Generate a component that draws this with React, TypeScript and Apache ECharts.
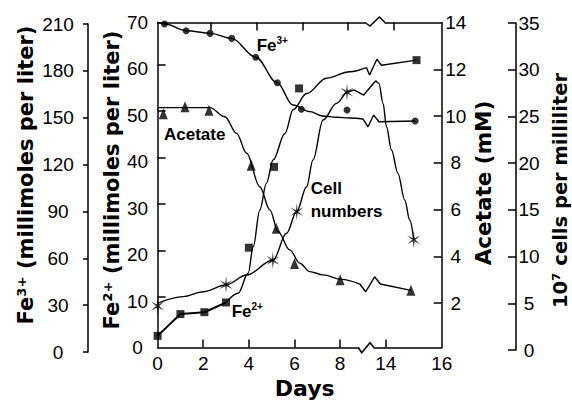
import React, { useEffect, useRef } from "react";
import * as echarts from "echarts";

// ---- broken day axis: days before the break keep their value, days from 14 on follow the break
const BREAK_DAY = 14;
const BREAK_POS = 10;
const POST_BREAK_SCALE = 1.225;
const toPos = (d: number) => (d <= BREAK_POS ? d : BREAK_POS + (d - BREAK_DAY) * POST_BREAK_SCALE);
const X_MAX = toPos(16);

const dayTickDays = [0, 2, 4, 6, 8, 14, 16];
const dayTickLabels = ["0", "2", "4", "6", "8", "14", "16"];
const dayInnerTicks = [2, 4, 6, 8, 14];
const TOP_TICK_SHIFT = 0.34;

const fe2Ticks = [0, 10, 20, 30, 40, 50, 60, 70];
const FE2_TICK_SHIFT = 0.9;
const fe3Ticks = [0, 30, 60, 90, 120, 150, 180, 210];
const acetateTicks = [2, 4, 6, 8, 10, 12, 14];
const cellTicks = [0, 5, 10, 15, 20, 25, 30, 35];

// ---- measured points (day, value)
const fe3Days = [0.3, 1.25, 2.3, 3.25, 4.3, 5.25, 6.3, 8.3, 15.05];
const fe3Vals = [210, 205.7, 204, 200.8, 188.7, 172.4, 155.4, 154.9, 147.9];
const fe2Days = [0, 1, 2.05, 3, 4, 5.1, 6.2, 15.1];
const fe2Vals = [2.5, 7.2, 7.6, 9.7, 21.5, 38.9, 55.8, 61.9];
const acetateDays = [0.25, 1.2, 2.25, 4.1, 5.2, 6.0, 8.0, 14.9];
const acetateVals = [10.1, 10.4, 10.25, 7.9, 5.2, 3.7, 3.0, 2.55];
const cellDays = [0, 3, 5.05, 6.1, 8.3, 15];
const cellVals = [4.7, 7.0, 9.6, 14.8, 27.6, 11.8];

// ---- fitted curves (axis position, value)
const fe3Curve = [[0, 211], [0.32, 210], [1.27, 205.7], [2.32, 204], [3.24, 200.8], [4.3, 188.7], [5.24, 172.4], [5.93, 158.1], [6.68, 153.9], [7.24, 151.1], [7.83, 150.3], [8.42, 149.8], [9.0, 149.2]];
const fe3Zigzag = [[9.0, 149.2], [9.22, 144.2], [9.47, 151.7], [9.7, 147.4]];
const fe2Curve = [[3, 9.7], [3.53, 11.7], [3.97, 16.0], [4.19, 21.7], [4.48, 29.6], [4.77, 35.4], [5.06, 40.4], [5.58, 46.1], [5.94, 51.2], [6.53, 54.7], [7.4, 58.0], [8.42, 59.4], [9.15, 60.3]];
const fe2Zigzag = [[9.15, 60.3], [9.29, 58.7], [9.61, 62.1], [9.81, 60.8]];
const acetateCurve = [[0, 10.36], [2.29, 10.36], [2.95, 9.97], [3.46, 9.26], [3.9, 8.41], [4.48, 6.98], [4.92, 5.99], [5.28, 5.06], [5.79, 4.28], [6.23, 3.71], [6.67, 3.35], [7.25, 3.21], [8.06, 3.02], [8.86, 2.82]];
const acetateZigzag = [[8.86, 2.82], [9.12, 2.49], [9.51, 3.13], [9.76, 2.82]];
const cellCurve = [[0, 5.0], [1.12, 5.71], [2.0, 6.24], [2.99, 6.96], [3.9, 8.03], [5.06, 9.63], [5.65, 12.49], [6.09, 14.8], [6.53, 17.48], [6.81, 20.34], [7.25, 24.62], [7.84, 26.4], [8.33, 27.61], [8.6, 27.83]];
const cellZigzag = [[8.6, 27.83], [9.03, 27.29], [9.56, 28.82]];
const cellDrop = [[9.56, 28.82], [9.7, 28.54], [9.88, 26.4], [10.03, 23.9], [10.25, 21.4], [10.53, 18.91], [10.83, 16.05], [11.05, 13.91]];

const INK = "#000";
const TICK_FONT = { color: INK, fontFamily: "Liberation Sans", fontSize: 19 };
const TITLE_FONT = { color: INK, fontFamily: "DejaVu Sans", fontWeight: "bold" as const, fontSize: 21 };
const LINE = { show: true, onZero: false, lineStyle: { color: INK, width: 1.5 } };

const starPath = (() => {
  const pts: string[] = [];
  for (let i = 0; i < 12; i++) {
    const a = ((i * 30 - 90) * Math.PI) / 180;
    const r = i % 2 === 0 ? 10 : 2.1;
    pts.push(`${(r * Math.cos(a)).toFixed(3)} ${(r * Math.sin(a)).toFixed(3)}`);
  }
  return "path://M" + pts.join(" L") + " Z";
})();

const pts = (days: number[], vals: number[]) => days.map((d, i) => [toPos(d), vals[i]]);
const lastPt = (days: number[], vals: number[]) => [toPos(days[days.length - 1]), vals[vals.length - 1]];

export default function App() {
  const ref = useRef<HTMLDivElement>(null);
  useEffect(() => {
    if (!ref.current) return;
    const chart = echarts.init(ref.current, undefined, { renderer: "svg" });
    const grid = { left: 157.6, width: 284.1, outerBoundsMode: "none" } as any;
    const hiddenX = (gridIndex: number) => ({ gridIndex, type: "value", min: 0, max: X_MAX, show: false });
    const curve = (data: number[][], xi: number, yi: number, smooth: number | boolean, width = 1.4) => ({
      type: "line", data, xAxisIndex: xi, yAxisIndex: yi, smooth, smoothMonotone: "x",
      symbol: "none", showSymbol: false, clip: false, silent: true, z: 2,
      lineStyle: { color: INK, width },
    });
    const marks = (data: number[][], xi: number, yi: number, symbol: string, symbolSize: any) => ({
      type: "scatter", data, xAxisIndex: xi, yAxisIndex: yi, symbol, symbolSize, symbolKeepAspect: true,
      itemStyle: { color: INK, borderColor: INK, borderWidth: 0 }, z: 4, silent: true,
    });
    const dayTickPos = dayTickDays.map(toPos);
    const richLabel = {
      b: { fontFamily: "Liberation Sans", fontWeight: "bold", fontSize: 17, fill: INK, lineHeight: 20 },
      s: { fontFamily: "Liberation Sans", fontWeight: "bold", fontSize: 10, fill: INK, verticalAlign: "top", lineHeight: 20 },
    };
    const option: any = {
      animation: false,
      backgroundColor: "#fff",
      textStyle: { fontFamily: "Liberation Sans" },
      grid: [
        { ...grid, top: 22.5, height: 325 },
        { ...grid, top: 24, height: 328 },
        { ...grid, top: 23, height: 327 },
      ],
      xAxis: [
        {
          gridIndex: 0, type: "value", position: "bottom", min: 0, max: X_MAX,
          axisLine: LINE,
          axisTick: { show: true, inside: true, length: 8, lineStyle: { color: INK, width: 1.5 }, customValues: dayInnerTicks.map(toPos) },
          axisLabel: {
            ...TICK_FONT, margin: 6, showMinLabel: true, showMaxLabel: true, customValues: dayTickPos,
            formatter: (v: number) => {
              const i = dayTickPos.findIndex((p) => Math.abs(p - v) < 1e-6);
              return i >= 0 ? dayTickLabels[i] : "";
            },
          },
          splitLine: { show: false },
          name: "Days", nameLocation: "middle", nameGap: 25,
          nameTextStyle: { ...TITLE_FONT, fontSize: 22, padding: [0, 0, 0, 10] },
        },
        {
          gridIndex: 0, type: "value", position: "top", min: 0, max: X_MAX,
          axisLine: LINE,
          axisTick: { show: true, inside: true, length: 8, lineStyle: { color: INK, width: 1.5 }, customValues: dayInnerTicks.map((d) => toPos(d) + TOP_TICK_SHIFT) },
          axisLabel: { show: false },
          splitLine: { show: false },
        },
        hiddenX(1),
        hiddenX(2),
      ],
      yAxis: [
        {
          gridIndex: 0, type: "value", position: "left", min: 0, max: 70,
          axisLine: LINE,
          axisTick: { show: true, inside: true, length: 8, lineStyle: { color: INK, width: 1.5 }, customValues: fe2Ticks.slice(1, -1).map((v) => v + FE2_TICK_SHIFT) },
          axisLabel: { ...TICK_FONT, align: "center", margin: 20, customValues: fe2Ticks, showMinLabel: true, showMaxLabel: true },
          splitLine: { show: false },
          name: "Fe²⁺ (millimoles per liter)", nameLocation: "middle", nameRotate: 90, nameGap: 35,
          nameTextStyle: { ...TITLE_FONT, padding: [0, 0, 0, 10] },
        },
        {
          gridIndex: 0, type: "value", position: "right", min: 0.107, max: 14,
          axisLine: LINE,
          axisTick: { show: true, inside: true, length: 8, lineStyle: { color: INK, width: 1.5 }, customValues: acetateTicks.slice(0, -1) },
          axisLabel: { ...TICK_FONT, align: "center", margin: 14, customValues: acetateTicks, showMinLabel: true, showMaxLabel: true },
          splitLine: { show: false },
          name: "Acetate (mM)", nameLocation: "middle", nameRotate: 90, nameGap: 31,
          nameTextStyle: { ...TITLE_FONT, fontSize: 21.5, padding: [0, 0, 0, 4] },
        },
        {
          gridIndex: 1, type: "value", position: "left", offset: 69.6, min: 0, max: 210,
          axisLine: LINE,
          axisTick: { show: true, inside: false, length: 5, lineStyle: { color: INK, width: 1.5 }, customValues: fe3Ticks },
          axisLabel: { ...TICK_FONT, align: "center", margin: 30, customValues: fe3Ticks, showMinLabel: true, showMaxLabel: true },
          splitLine: { show: false },
          name: "Fe³⁺ (millimoles per liter)", nameLocation: "middle", nameRotate: 90, nameGap: 52,
          nameTextStyle: { ...TITLE_FONT, padding: [0, 0, 0, 26] },
        },
        {
          gridIndex: 2, type: "value", position: "right", offset: 74.3, min: 0, max: 35,
          axisLine: LINE,
          axisTick: { show: true, inside: true, length: 8, lineStyle: { color: INK, width: 1.5 }, customValues: cellTicks },
          axisLabel: { ...TICK_FONT, align: "center", margin: 13, customValues: cellTicks, showMinLabel: true, showMaxLabel: true },
          splitLine: { show: false },
          name: "10⁷ cells per milliliter", nameLocation: "middle", nameRotate: 90, nameGap: 34,
          nameTextStyle: { ...TITLE_FONT, fontSize: 19.5, padding: [0, 8, 0, 0] },
        },
      ],
      series: [
        // Fe3+
        curve(fe3Curve, 2, 2, 0.35),
        curve([...fe3Zigzag, lastPt(fe3Days, fe3Vals)], 2, 2, false),
        marks(pts(fe3Days, fe3Vals), 2, 2, "circle", 7),
        // Fe2+
        curve(pts(fe2Days.slice(0, 4), fe2Vals.slice(0, 4)), 0, 0, false, 2),
        curve(fe2Curve, 0, 0, 0.35),
        curve([...fe2Zigzag, lastPt(fe2Days, fe2Vals)], 0, 0, false),
        marks(pts(fe2Days, fe2Vals), 0, 0, "rect", 8),
        // acetate
        curve(acetateCurve, 0, 1, 0.35),
        curve([...acetateZigzag, lastPt(acetateDays, acetateVals)], 0, 1, false),
        marks(pts(acetateDays, acetateVals), 0, 1, "triangle", [9, 11]),
        // cell numbers
        curve(cellCurve, 3, 3, 0.35),
        curve(cellZigzag, 3, 3, false),
        curve([...cellDrop, lastPt(cellDays, cellVals)], 3, 3, 0.35),
        marks(pts(cellDays, cellVals), 3, 3, starPath, [15, 17.5]),
      ],
      graphic: [
        // axis break marks on the frame
        { type: "rect", z: 100, shape: { x: 365.6, y: 20, width: 19, height: 5 }, style: { fill: "#fff" } },
        { type: "polyline", z: 101, shape: { points: [[365, 22.5], [370, 26], [379.3, 17], [385, 22.5]] }, style: { stroke: INK, lineWidth: 1.5, fill: null } },
        { type: "rect", z: 100, shape: { x: 358.8, y: 345.5, width: 14.7, height: 4 }, style: { fill: "#fff" } },
        { type: "polyline", z: 101, shape: { points: [[358.3, 347.5], [361.7, 352.7], [370, 342.7], [374, 347.5]] }, style: { stroke: INK, lineWidth: 1.5, fill: null } },
        // curve labels
        { type: "text", z: 102, x: 256.7, y: 45, style: { text: "{b|Fe}{s|3+}", rich: richLabel, verticalAlign: "middle" } },
        { type: "text", z: 102, x: 164, y: 134, style: { text: "{b|Acetate}", rich: richLabel, verticalAlign: "middle" } },
        { type: "text", z: 102, x: 310.7, y: 188, style: { text: "{b|Cell}", rich: richLabel, verticalAlign: "middle" } },
        { type: "text", z: 102, x: 310.7, y: 211.7, style: { text: "{b|numbers}", rich: richLabel, verticalAlign: "middle" } },
        { type: "text", z: 102, x: 231.7, y: 311.7, style: { text: "{b|Fe}{s|2+}", rich: richLabel, verticalAlign: "middle" } },
      ],
    };
    chart.setOption(option);
    return () => chart.dispose();
  }, []);
  return <div ref={ref} style={{ position: "absolute", left: 0, top: 0, width: 572, height: 400, background: "#fff" }} />;
}
